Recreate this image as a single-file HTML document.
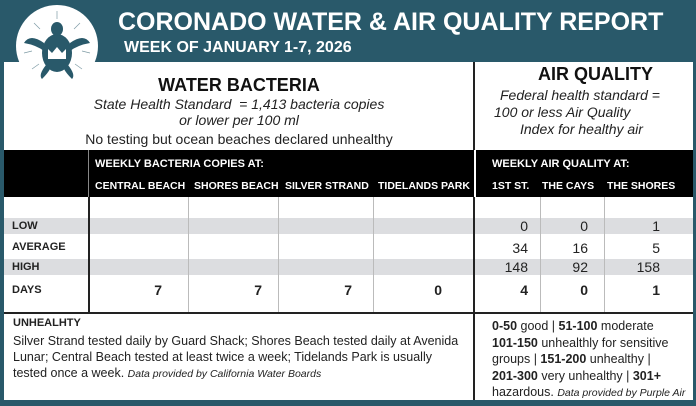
<!DOCTYPE html>
<html><head><style>
*{margin:0;padding:0;box-sizing:border-box}
body{width:696px;height:406px;background:#29596a;position:relative;overflow:hidden;font-family:"Liberation Sans",sans-serif;color:#222}
.a{position:absolute;white-space:nowrap}
.c{text-align:center}
.r{text-align:right}
.b{font-weight:bold}
.i{font-style:italic}
</style></head><body>
<div class="a" style="left:4px;top:62px;width:689px;height:338px;background:#fff"></div>
<div class="a b" style="left:118px;top:8px;font-size:25px;color:#fff">CORONADO WATER &amp; AIR QUALITY REPORT</div>
<div class="a b" style="left:124px;top:39px;font-size:16px;color:#fff">WEEK OF JANUARY 1-7, 2026</div>
<svg class="a" style="left:14px;top:3px" width="86" height="86" viewBox="0 0 86 86">
<circle cx="43" cy="43" r="41" fill="#fff"/>
<g stroke="#29596a" stroke-width="0.7" opacity="0.6">
<line x1="43" y1="8" x2="43" y2="16"/><line x1="20" y1="20" x2="26" y2="26"/><line x1="66" y1="20" x2="60" y2="26"/><line x1="10" y1="50" x2="18" y2="48"/><line x1="76" y1="50" x2="68" y2="48"/><line x1="18" y1="66" x2="25" y2="61"/><line x1="68" y1="66" x2="61" y2="61"/>
</g>
<ellipse cx="43" cy="50" rx="15" ry="19" fill="#29596a"/>
<ellipse cx="43" cy="26" rx="6" ry="7" fill="#29596a"/>
<path d="M30 40 Q16 30 10 40 Q22 42 30 48Z M56 40 Q70 30 76 40 Q64 42 56 48Z M32 62 Q24 72 28 76 Q34 70 36 66Z M54 62 Q62 72 58 76 Q52 70 50 66Z" fill="#29596a"/>
<path d="M34 56 L34 46 L38 50 L43 44 L48 50 L52 46 L52 56Z" fill="#fff"/>
</svg>
<div class="a b c" style="left:4px;width:470px;top:75px;font-size:18px;color:#111">WATER BACTERIA</div>
<div class="a i c" style="left:4px;width:470px;top:96px;font-size:14px;line-height:16px">State Health Standard &nbsp;= 1,413 bacteria copies<br>or lower per 100 ml</div>
<div class="a c" style="left:4px;width:470px;top:131px;font-size:14px">No testing but ocean beaches declared unhealthy</div>
<div class="a b" style="left:538px;top:64px;font-size:18px;color:#111">AIR QUALITY</div>
<div class="a i" style="left:500px;top:87px;font-size:14px;line-height:17px">Federal health standard =</div>
<div class="a i" style="left:494px;top:104px;font-size:14px">100 or less Air Quality</div>
<div class="a i" style="left:520px;top:121px;font-size:14px">Index for healthy air</div>
<div class="a" style="left:473px;top:62px;width:2px;height:88px;background:#222"></div>
<div class="a" style="left:4px;top:150px;width:689px;height:47px;background:#000"></div>
<div class="a" style="left:88px;top:150px;width:1px;height:47px;background:#888"></div>
<div class="a" style="left:474px;top:150px;width:2px;height:47px;background:#fff"></div>
<div class="a b" style="left:95px;top:158px;font-size:11px;color:#fff">WEEKLY BACTERIA COPIES AT:</div>
<div class="a b" style="left:95px;top:180px;font-size:10.5px;color:#fff">CENTRAL BEACH</div>
<div class="a b" style="left:194px;top:180px;font-size:10.5px;color:#fff">SHORES BEACH</div>
<div class="a b" style="left:285px;top:180px;font-size:10.5px;color:#fff">SILVER STRAND</div>
<div class="a b" style="left:378px;top:180px;font-size:10.5px;color:#fff">TIDELANDS PARK</div>
<div class="a b" style="left:492px;top:158px;font-size:11px;color:#fff">WEEKLY AIR QUALITY AT:</div>
<div class="a b" style="left:492px;top:180px;font-size:10.5px;color:#fff">1ST ST.</div>
<div class="a b" style="left:542px;top:180px;font-size:10.5px;color:#fff">THE CAYS</div>
<div class="a b" style="left:607px;top:180px;font-size:10.5px;color:#fff">THE SHORES</div>
<div class="a" style="left:4px;top:218px;width:689px;height:16px;background:#dcdde0"></div>
<div class="a" style="left:4px;top:259px;width:689px;height:16px;background:#dcdde0"></div>
<div class="a" style="left:188px;top:197px;width:1px;height:116px;background:#bbb"></div>
<div class="a" style="left:278px;top:197px;width:1px;height:116px;background:#bbb"></div>
<div class="a" style="left:373px;top:197px;width:1px;height:116px;background:#bbb"></div>
<div class="a" style="left:540px;top:197px;width:1px;height:116px;background:#bbb"></div>
<div class="a" style="left:604px;top:197px;width:1px;height:116px;background:#bbb"></div>
<div class="a" style="left:88px;top:197px;width:2px;height:116px;background:#222"></div>
<div class="a" style="left:473px;top:197px;width:2px;height:203px;background:#222"></div>
<div class="a" style="left:4px;top:312px;width:689px;height:2px;background:#222"></div>
<div class="a b" style="left:12px;top:220px;font-size:11px">LOW</div>
<div class="a b" style="left:12px;top:241px;font-size:11px">AVERAGE</div>
<div class="a b" style="left:12px;top:261px;font-size:11px">HIGH</div>
<div class="a b" style="left:12px;top:284px;font-size:11px">DAYS</div>
<div class="a b r" style="left:100px;width:62px;top:282px;font-size:14px">7</div>
<div class="a b r" style="left:200px;width:62px;top:282px;font-size:14px">7</div>
<div class="a b r" style="left:290px;width:62px;top:282px;font-size:14px">7</div>
<div class="a b r" style="left:380px;width:62px;top:282px;font-size:14px">0</div>
<div class="a r" style="left:480px;width:48px;top:218px;font-size:14px;line-height:17px">0<br><span style="display:block;height:24px;line-height:26px">34</span>148</div>
<div class="a r" style="left:540px;width:48px;top:218px;font-size:14px;line-height:17px">0<br><span style="display:block;height:24px;line-height:26px">16</span>92</div>
<div class="a r" style="left:610px;width:50px;top:218px;font-size:14px;line-height:17px">1<br><span style="display:block;height:24px;line-height:26px">5</span>158</div>
<div class="a b r" style="left:480px;width:48px;top:282px;font-size:14px">4</div>
<div class="a b r" style="left:540px;width:48px;top:282px;font-size:14px">0</div>
<div class="a b r" style="left:610px;width:50px;top:282px;font-size:14px">1</div>
<div class="a b" style="left:13px;top:317px;font-size:11px">UNHEALHTY</div>
<div class="a" style="left:13px;top:333px;font-size:12.5px;line-height:16px">Silver Strand tested daily by Guard Shack; Shores Beach tested daily at Avenida<br>Lunar; Central Beach tested at least twice a week; Tidelands Park is usually<br>tested once a week. <span class="i" style="font-size:10.5px">Data provided by California Water Boards</span></div>
<div class="a" style="left:492px;top:318px;font-size:12.5px;line-height:16.5px"><b>0-50</b> good | <b>51-100</b> moderate<br><b>101-150</b> unhealthly for sensitive<br>groups | <b>151-200</b> unhealthy |<br><b>201-300</b> very unhealthy | <b>301+</b><br>hazardous. <span class="i" style="font-size:10.5px">Data provided by Purple Air</span></div>
</body></html>
